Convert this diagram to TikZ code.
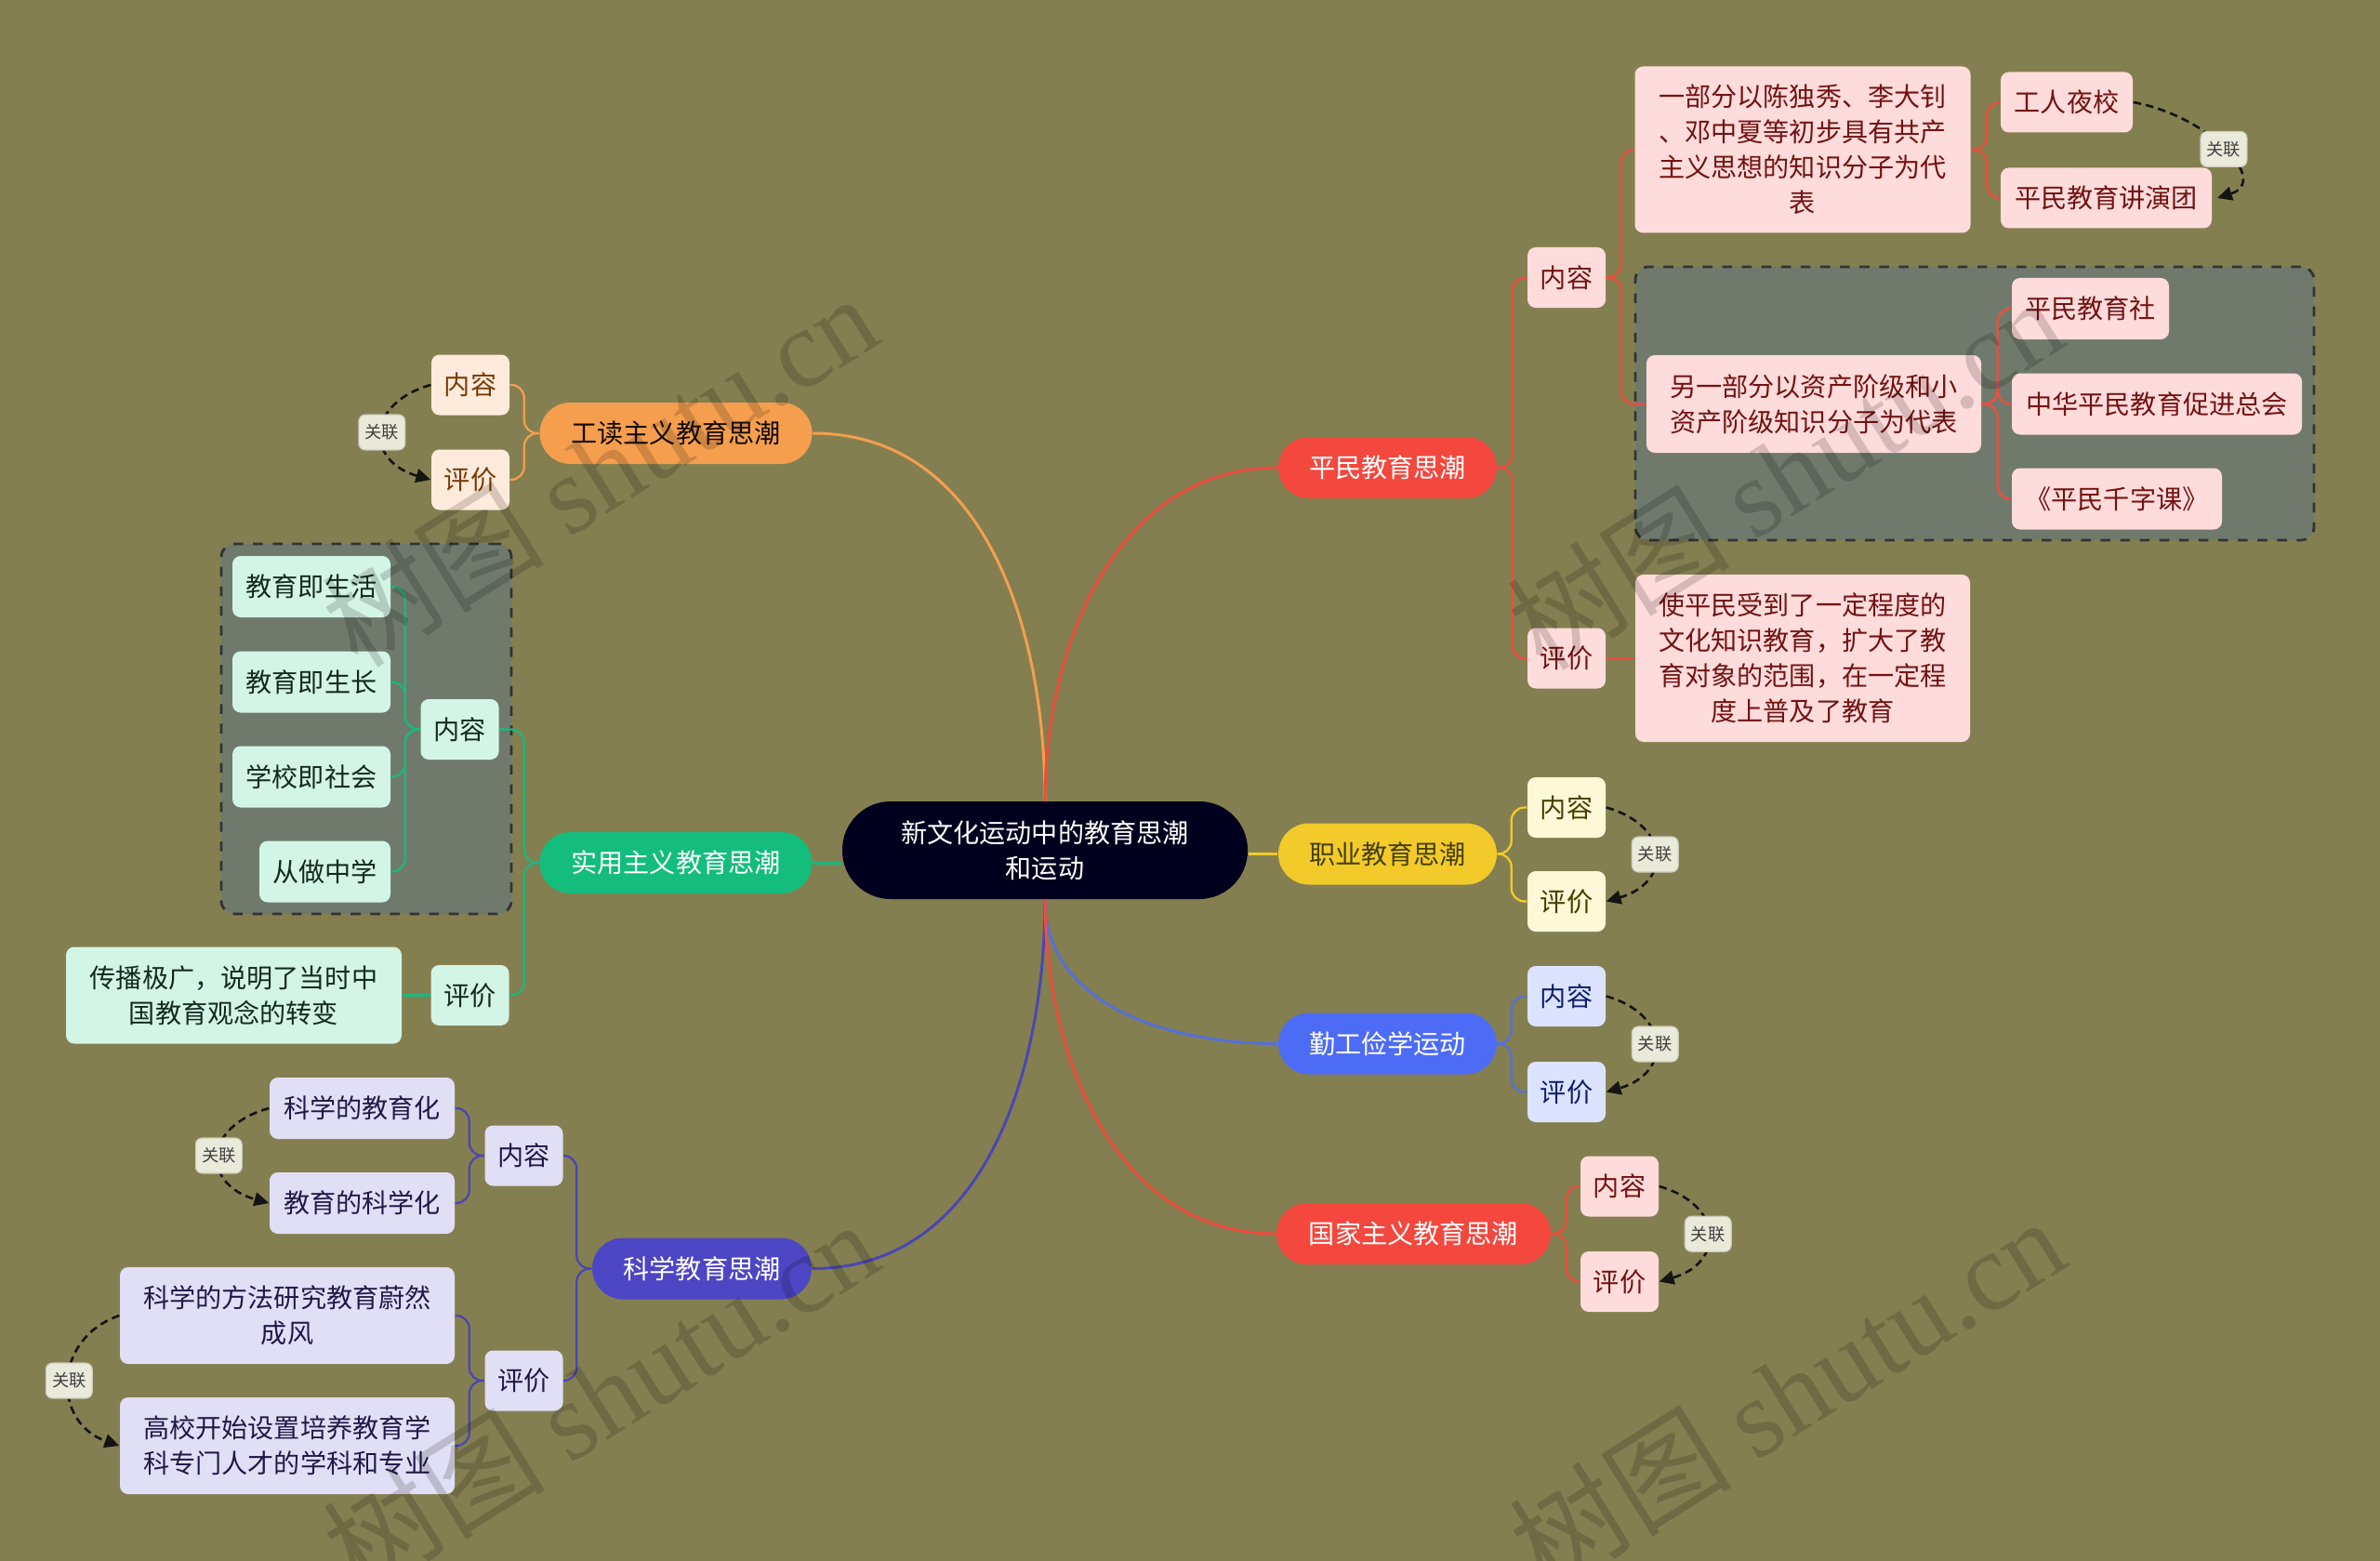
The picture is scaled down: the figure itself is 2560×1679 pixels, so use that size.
\documentclass[tikz,border=0pt]{standalone}
\usepackage{fontspec}
\setmainfont{Noto Sans CJK SC}
\newfontfamily\wmfont{Liberation Serif}
\usetikzlibrary{arrows.meta,calc}
\pgfdeclarelayer{bg}
\pgfdeclarelayer{lines}
\pgfsetlayers{bg,lines,main}

\definecolor{bgc}{HTML}{847F50}
\definecolor{grpc}{HTML}{707A6C}
\definecolor{redP}{HTML}{F4473E}
\definecolor{redL}{HTML}{EE4D3F}
\definecolor{pinkF}{HTML}{FEDCDB}
\definecolor{pinkT}{HTML}{731212}
\definecolor{yelP}{HTML}{F2CB2B}
\definecolor{yelF}{HTML}{FFF8D6}
\definecolor{yelT}{HTML}{463E00}
\definecolor{bluP}{HTML}{4D6CF5}
\definecolor{bluL}{HTML}{5670D8}
\definecolor{bluF}{HTML}{DCE3FF}
\definecolor{bluT}{HTML}{0F1D6E}
\definecolor{oraP}{HTML}{F59F4E}
\definecolor{oraF}{HTML}{FFEBDC}
\definecolor{oraT}{HTML}{7A3A05}
\definecolor{greP}{HTML}{14BD7C}
\definecolor{greL}{HTML}{1DB77F}
\definecolor{greF}{HTML}{D3F5E6}
\definecolor{greT}{HTML}{122A1E}
\definecolor{purP}{HTML}{4D46C4}
\definecolor{purL}{HTML}{4A46B4}
\definecolor{purF}{HTML}{E1DFF6}
\definecolor{purT}{HTML}{1E1A48}
\definecolor{ctrF}{HTML}{00001E}
\definecolor{relF}{HTML}{EAEADB}
\definecolor{relD}{HTML}{C9C9B8}
\definecolor{arrC}{HTML}{141414}

\begin{document}
\begin{tikzpicture}[x=0.01cm,y=-0.01cm,
  sz/.style 2 args={minimum width=#1*0.01cm, minimum height=#2*0.01cm},
  base/.style={inner sep=0pt, align=center, font=\fontsize{8pt}{10.8pt}\selectfont},
  pill/.style={base, rounded corners=0.33cm},
  box/.style={base, rounded corners=2.5pt},
  ctr/.style={base, rounded corners=0.52cm, fill=ctrF, text=white},
  pmpill/.style={pill, fill=redP, text=white},
  zypill/.style={pill, fill=yelP, text=yelT},
  qgpill/.style={pill, fill=bluP, text=white},
  gdpill/.style={pill, fill=oraP, text=black!85!oraT},
  sypill/.style={pill, fill=greP, text=white},
  kxpill/.style={pill, fill=purP, text=white},
  pkbox/.style={box, fill=pinkF, text=pinkT},
  ylbox/.style={box, fill=yelF, text=yelT},
  blbox/.style={box, fill=bluF, text=bluT},
  orbox/.style={box, fill=oraF, text=oraT},
  grbox/.style={box, fill=greF, text=greT},
  pubox/.style={box, fill=purF, text=purT},
  grp/.style={fill=grpc, draw=black!80, dashed, line width=0.8pt, rounded corners=4pt, inner sep=0pt},
  trunk/.style={line width=0.85pt},
  brk/.style={line width=0.65pt, rounded corners=4pt},
  rel/.style={draw=arrC, dashed, dash pattern=on 2.4pt off 1.5pt, line width=0.75pt, -{Triangle[length=4.5pt,width=4.2pt]}},
  rellab/.style={fill=relF, draw=relD, line width=0.3pt, rounded corners=2pt, text=black!75, inner sep=0pt, sz={50}{38}, font=\fontsize{5.2pt}{6pt}\selectfont},
  wm/.style={text=black, text opacity=0.16, font=\fontsize{34pt}{34pt}\selectfont, inner sep=0pt}
]
\useasboundingbox (0,0) rectangle (2560,1679);
\begin{pgfonlayer}{bg}
\fill[bgc] (0,0) rectangle (2560,1679);
\node[grp, sz={730}{294}] (g1) at (2124,434) {};
\node[grp, sz={312}{398}] (g2) at (394,784) {};
\end{pgfonlayer}

% central
\node[ctr, sz={436}{105}] (ct) at (1124,914.5) {新文化运动中的教育思潮\\和运动};

% branch pills
\node[pmpill, sz={235}{66}] (pm) at (1492.5,503) {平民教育思潮};
\node[zypill, sz={235}{66}] (zy) at (1492.5,918.5) {职业教育思潮};
\node[qgpill, sz={235}{66}] (qg) at (1492.5,1122.5) {勤工俭学运动};
\node[pmpill, sz={295}{66}] (gj) at (1520.5,1327) {国家主义教育思潮};
\node[gdpill, sz={293}{66}] (gd) at (727,466) {工读主义教育思潮};
\node[sypill, sz={293}{66}] (sy) at (727,928) {实用主义教育思潮};
\node[kxpill, sz={236}{66}] (kx) at (755,1364.5) {科学教育思潮};

% second level
\node[pkbox, sz={84}{65}] (pmnr) at (1685,298.5) {内容};
\node[pkbox, sz={84}{65}] (pmpj) at (1685,708) {评价};
\node[ylbox, sz={84}{65}] (zynr) at (1685,868.5) {内容};
\node[ylbox, sz={84}{65}] (zypj) at (1685,969.5) {评价};
\node[blbox, sz={84}{65}] (qgnr) at (1685,1071.5) {内容};
\node[blbox, sz={84}{65}] (qgpj) at (1685,1174.5) {评价};
\node[pkbox, sz={84}{65}] (gjnr) at (1742,1276) {内容};
\node[pkbox, sz={84}{65}] (gjpj) at (1742,1378.5) {评价};
\node[orbox, sz={84}{65}] (gdnr) at (506,414) {内容};
\node[orbox, sz={84}{65}] (gdpj) at (506,516) {评价};
\node[grbox, sz={84}{65}] (synr) at (494.5,784.5) {内容};
\node[grbox, sz={84}{65}] (sypj) at (505.5,1070.5) {评价};
\node[pubox, sz={84}{65}] (kxnr) at (563.5,1243) {内容};
\node[pubox, sz={84}{65}] (kxpj) at (563.5,1485) {评价};

% 平民 leaves
\node[pkbox, sz={361}{179}] (pma) at (1939,161) {一部分以陈独秀、李大钊\\、邓中夏等初步具有共产\\主义思想的知识分子为代\\表};
\node[pkbox, sz={142}{65}] (pma1) at (2223,110) {工人夜校};
\node[pkbox, sz={227}{65}] (pma2) at (2265.5,213) {平民教育讲演团};
\node[pkbox, sz={360}{105}] (pmb) at (1951,434.5) {另一部分以资产阶级和小\\资产阶级知识分子为代表};
\node[pkbox, sz={169}{66}] (pmb1) at (2248.5,332) {平民教育社};
\node[pkbox, sz={312}{66}] (pmb2) at (2320,434.5) {中华平民教育促进总会};
\node[pkbox, sz={226}{66}] (pmb3) at (2277,536.5) {《平民千字课》};
\node[pkbox, sz={360}{180}] (pmc) at (1939,708) {使平民受到了一定程度的\\文化知识教育，扩大了教\\育对象的范围，在一定程\\度上普及了教育};

% 实用 leaves
\node[grbox, sz={170}{66}] (sya) at (335,631) {教育即生活};
\node[grbox, sz={170}{66}] (syb) at (335,733.5) {教育即生长};
\node[grbox, sz={170}{66}] (syc) at (335,835.5) {学校即社会};
\node[grbox, sz={141}{66}] (syd) at (349.5,937.5) {从做中学};
\node[grbox, sz={361}{104}] (sye) at (251.5,1070.5) {传播极广，说明了当时中\\国教育观念的转变};

% 科学 leaves
\node[pubox, sz={199}{66}] (kxa) at (389.5,1192) {科学的教育化};
\node[pubox, sz={199}{66}] (kxb) at (389.5,1294) {教育的科学化};
\node[pubox, sz={360}{104}] (kxc) at (309,1415) {科学的方法研究教育蔚然\\成风};
\node[pubox, sz={360}{104}] (kxd) at (309,1555) {高校开始设置培养教育学\\科专门人才的学科和专业};

\begin{pgfonlayer}{lines}
% trunks
\draw[trunk, oraP] (ct.north) .. controls +(0,-185) and +(185,0) .. (gd.east);
\draw[trunk, redL] (ct.north) .. controls +(0,-171) and +(-171,0) .. (pm.west);
\draw[trunk, greL] (sy.east) -- (ct.west |- sy.east);
\draw[trunk, yelP] (ct.east |- zy.west) -- (zy.west);
\draw[trunk, purL] (ct.south) .. controls +(0,185) and +(185,0) .. (kx.east);
\draw[trunk, bluL] (ct.south) .. controls +(0,115) and +(-115,0) .. (qg.west);
\draw[trunk, redL] (ct.south) .. controls +(0,171) and +(-171,0) .. (gj.west);

% 平民 brackets
\draw[brk, redL] (pm.east) -- ++(16,0) |- (pmnr.west);
\draw[brk, redL] (pm.east) -- ++(16,0) |- (pmpj.west);
\draw[brk, redL] (pmnr.east) -- ++(16,0) |- (pma.west);
\draw[brk, redL] (pmnr.east) -- ++(16,0) |- (pmb.west);
\draw[brk, redL] (pma.east) -- ++(17,0) |- (pma1.west);
\draw[brk, redL] (pma.east) -- ++(17,0) |- (pma2.west);
\draw[brk, redL] (pmb.east) -- ++(17,0) |- (pmb1.west);
\draw[brk, redL] (pmb.east) -- ++(17,0) |- (pmb2.west);
\draw[brk, redL] (pmb.east) -- ++(17,0) |- (pmb3.west);
\draw[brk, redL] (pmpj.east) -- (pmc.west);
% 职业
\draw[brk, yelP] (zy.east) -- ++(15,0) |- (zynr.west);
\draw[brk, yelP] (zy.east) -- ++(15,0) |- (zypj.west);
% 勤工
\draw[brk, bluL] (qg.east) -- ++(15,0) |- (qgnr.west);
\draw[brk, bluL] (qg.east) -- ++(15,0) |- (qgpj.west);
% 国家
\draw[brk, redL] (gj.east) -- ++(16,0) |- (gjnr.west);
\draw[brk, redL] (gj.east) -- ++(16,0) |- (gjpj.west);
% 工读
\draw[brk, oraP] (gd.west) -- ++(-16,0) |- (gdnr.east);
\draw[brk, oraP] (gd.west) -- ++(-16,0) |- (gdpj.east);
% 实用
\draw[brk, greL] (sy.west) -- ++(-16,0) |- (synr.east);
\draw[brk, greL] (sy.west) -- ++(-16,0) |- (sypj.east);
\draw[brk, greL] (synr.west) -- ++(-16,0) |- (sya.east);
\draw[brk, greL] (synr.west) -- ++(-16,0) |- (syb.east);
\draw[brk, greL] (synr.west) -- ++(-16,0) |- (syc.east);
\draw[brk, greL] (synr.west) -- ++(-16,0) |- (syd.east);
\draw[brk, greL] (sypj.west) -- (sye.east);
% 科学
\draw[brk, purL] (kx.west) -- ++(-16,0) |- (kxnr.east);
\draw[brk, purL] (kx.west) -- ++(-16,0) |- (kxpj.east);
\draw[brk, purL] (kxnr.west) -- ++(-16,0) |- (kxa.east);
\draw[brk, purL] (kxnr.west) -- ++(-16,0) |- (kxb.east);
\draw[brk, purL] (kxpj.west) -- ++(-16,0) |- (kxc.east);
\draw[brk, purL] (kxpj.west) -- ++(-16,0) |- (kxd.east);
\end{pgfonlayer}

% relation arrows
\draw[rel] (pma1.east) .. controls +(82,15) and +(57,-18) .. node[pos=0.5, rellab, solid] (r1) {关联} ([xshift=1.5pt]pma2.east);
\draw[rel] (zynr.east) .. controls +(70,20) and +(70,-20) .. node[pos=0.5, rellab, solid] (r2) {关联} (zypj.east);
\draw[rel] (qgnr.east) .. controls +(70,20) and +(70,-20) .. node[pos=0.5, rellab, solid] (r3) {关联} (qgpj.east);
\draw[rel] (gjnr.east) .. controls +(70,20) and +(70,-20) .. node[pos=0.5, rellab, solid] (r4) {关联} (gjpj.east);
\draw[rel] (gdnr.west) .. controls +(-70,20) and +(-70,-20) .. node[pos=0.5, rellab, solid] (r5) {关联} (gdpj.west);
\draw[rel] (kxa.west) .. controls +(-72,20) and +(-72,-20) .. node[pos=0.5, rellab, solid] (r6) {关联} (kxb.west);
\draw[rel] (kxc.west) .. controls +(-72,25) and +(-72,-25) .. node[pos=0.5, rellab, solid] (r7) {关联} (kxd.west);

% watermarks
\node[wm, rotate=32] (wm1) at (645,505) {树图 {\wmfont shutu.cn}};
\node[wm, rotate=32] (wm2) at (1920,508) {树图 {\wmfont shutu.cn}};
\node[wm, rotate=32] (wm3) at (646,1501) {树图 {\wmfont shutu.cn}};
\node[wm, rotate=32] (wm4) at (1922,1498) {树图 {\wmfont shutu.cn}};
\end{tikzpicture}
\end{document}
